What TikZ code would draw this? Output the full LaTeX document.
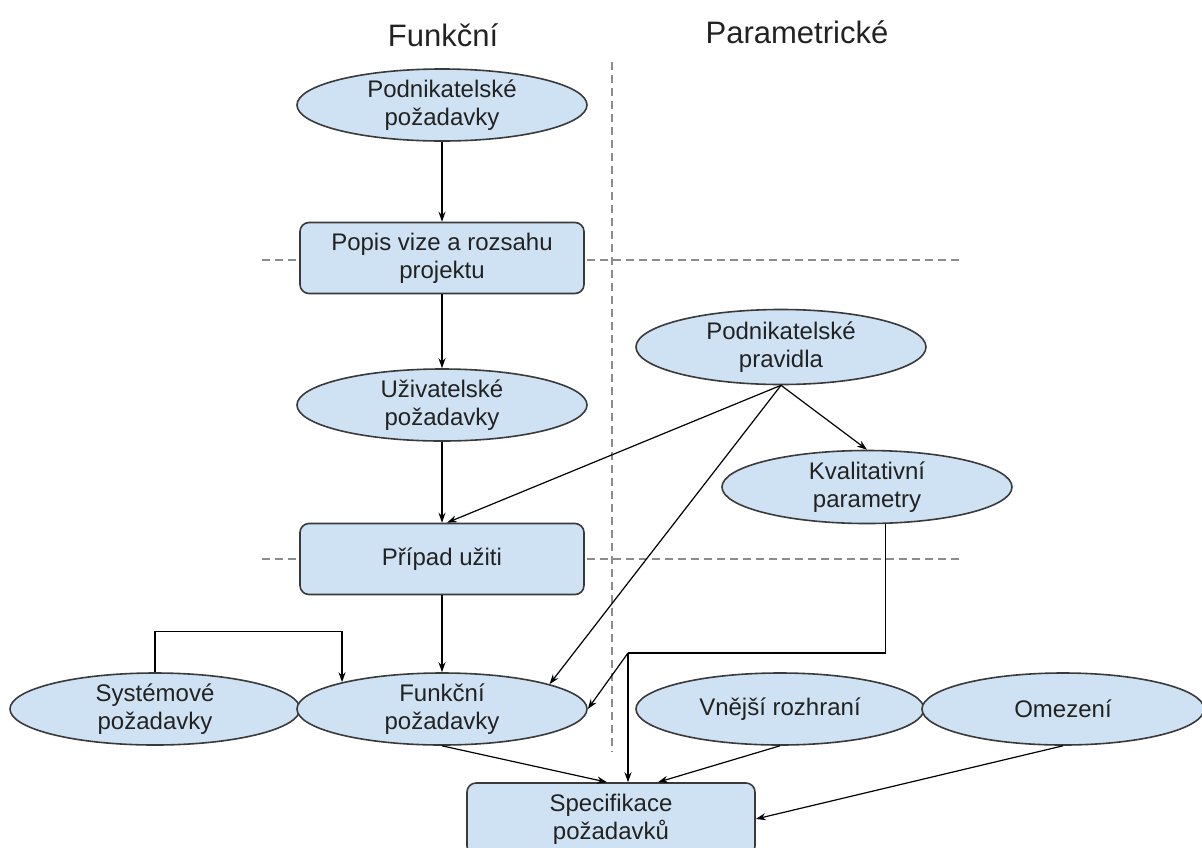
\documentclass[tikz,border=0pt]{standalone}
\usepackage{fontspec}
\setmainfont{Liberation Sans}
\usetikzlibrary{shapes.geometric,arrows.meta}
\definecolor{nodefill}{HTML}{CFE2F3}
\definecolor{nodeedge}{HTML}{3A3A3A}
\definecolor{guide}{HTML}{8C8C8C}
\definecolor{inktext}{HTML}{222222}
\begin{document}
\begin{tikzpicture}[x=1pt,y=-1pt,
  base/.style={draw=nodeedge,fill=nodefill,line width=1.6pt,align=center,text=inktext,
               font=\fontsize{24}{28}\selectfont},
  oval/.style={base,ellipse,inner xsep=0pt,inner ysep=-6pt,minimum width=290pt,minimum height=72pt},
  card/.style={base,rectangle,rounded corners=9pt,inner sep=0pt,minimum width=284pt,minimum height=71pt},
  arr/.style={draw=black,line width=1.2pt,-{Stealth[length=10pt,width=7pt]}},
  wire/.style={draw=black,line width=1.2pt},
  guideline/.style={draw=guide,line width=1.4pt,dash pattern=on 8pt off 5pt},
  heading/.style={font=\fontsize{31}{36}\selectfont,text=inktext}]
\useasboundingbox (0,0) rectangle (1202,847);

% section guides
\draw[guideline] (612,62) -- (612,752);
\draw[guideline] (262,260) -- (960,260);
\draw[guideline] (262,559) -- (960,559);

% column headings
\node[heading] (hf) at (443,35) {Funkční};
\node[heading] (hp) at (797,32) {Parametrické};

% functional column
\node[oval] (pp) at (442,105) {Podnikatelské\\požadavky};
\node[card] (pv) at (442,258) {Popis vize a rozsahu\\projektu};
\node[oval] (uz) at (442,405) {Uživatelské\\požadavky};
\node[card] (pu) at (442,559) {Případ užiti};

% parametric column
\node[oval,minimum height=75pt] (pr) at (781,347) {Podnikatelské\\pravidla};
\node[oval,minimum height=73pt] (kv) at (867,487) {Kvalitativní\\parametry};

% bottom row
\node[oval] (sy) at (155,709) {Systémové\\požadavky};
\node[oval] (fp) at (442,709) {Funkční\\požadavky};
\node[oval,minimum width=288pt] (vr) at (780,709) {Vnější rozhraní};
\node[oval,minimum width=282pt] (om) at (1063,709) {Omezení};
\node[card,minimum width=288pt,minimum height=72pt] (sp) at (611,819) {Specifikace\\požadavků};

% main chain
\draw[arr] (pp.south) -- (pv.north);
\draw[arr] (pv.south) -- (uz.north);
\draw[arr] (uz.south) -- (pu.north);
\draw[arr] (pu.south) -- (fp.north);

% business rules
\draw[arr] (pr.south) -- (kv.north);
\draw[arr] (pr.south) -- ([xshift=5pt]pu.north);
\draw[arr] (pr.south) -- (fp.13);

% system requirements feed functional requirements
\draw[arr] (sy.north) -- ++(0,-41) -| (fp.165);

% quality parameters
\coordinate (kb) at (628,653);
\draw[wire] (kv.297) |- (kb);
\draw[arr] (kb) -- (kb |- sp.north);
\draw[arr] (kb) -- (fp.east);

% into the specification
\draw[arr] (fp.south) -- ([xshift=-4pt]sp.north);
\draw[arr] (vr.south) -- ([xshift=47pt]sp.north);
\draw[arr] (om.south) -- (sp.east);
\end{tikzpicture}
\end{document}
